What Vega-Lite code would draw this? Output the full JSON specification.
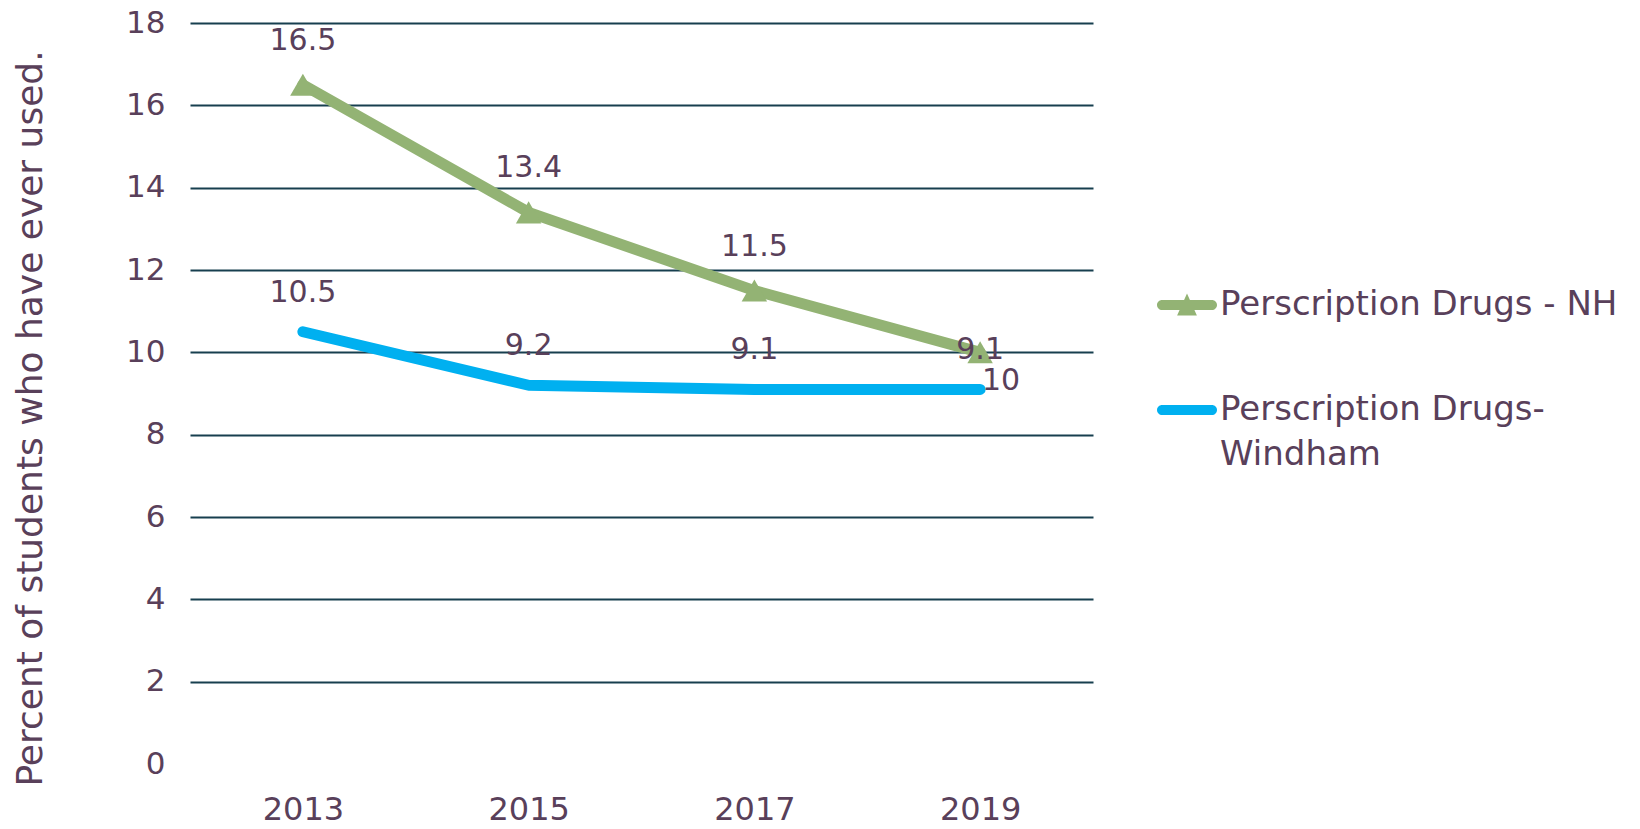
{
  "$schema": "https://vega.github.io/schema/vega-lite/v6.json",
  "width": 903,
  "height": 741,
  "autosize": {"type": "none"},
  "padding": {"left": 190, "top": 23, "right": 547, "bottom": 65},
  "background": "white",
  "config": {"view": {"stroke": null}, "font": "DejaVu Sans"},
  "data": {
    "values": [
      {"year": "2013", "series": "Perscription Drugs - NH", "value": 16.5},
      {"year": "2015", "series": "Perscription Drugs - NH", "value": 13.4},
      {"year": "2017", "series": "Perscription Drugs - NH", "value": 11.5},
      {"year": "2019", "series": "Perscription Drugs - NH", "value": 10},
      {"year": "2013", "series": "Perscription Drugs-Windham", "value": 10.5},
      {"year": "2015", "series": "Perscription Drugs-Windham", "value": 9.2},
      {"year": "2017", "series": "Perscription Drugs-Windham", "value": 9.1},
      {"year": "2019", "series": "Perscription Drugs-Windham", "value": 9.1}
    ]
  },
  "encoding": {
    "x": {
      "field": "year",
      "type": "ordinal",
      "scale": {"type": "point", "padding": 0.5},
      "axis": {
        "title": null,
        "labelAngle": 0,
        "labelFontSize": 32,
        "labelColor": "#59405A",
        "labelPadding": 30,
        "ticks": false,
        "domain": false,
        "grid": false
      }
    },
    "y": {
      "field": "value",
      "type": "quantitative",
      "scale": {"domain": [0, 18], "nice": false},
      "axis": {
        "values": [0, 2, 4, 6, 8, 10, 12, 14, 16, 18],
        "title": "Percent of students who have ever used.",
        "titleFontSize": 36,
        "titleFontWeight": "normal",
        "titleColor": "#59405A",
        "titleX": -160,
        "titleY": 395,
        "titleAngle": -90,
        "titleAlign": "center",
        "titleBaseline": "middle",
        "labelFontSize": 31,
        "labelColor": "#59405A",
        "labelPadding": 25,
        "ticks": false,
        "domain": false,
        "gridColor": {"condition": {"test": "datum.value === 0", "value": "transparent"}, "value": "#173F4F"},
        "gridWidth": 2
      }
    }
  },
  "layer": [
    {
      "mark": {"type": "line", "strokeWidth": 11, "strokeCap": "round", "strokeJoin": "round"},
      "encoding": {
        "color": {
          "field": "series",
          "type": "nominal",
          "scale": {
            "domain": ["Perscription Drugs - NH", "Perscription Drugs-Windham"],
            "range": ["#93B374", "#00B0F0"]
          },
          "legend": {
            "orient": "none",
            "legendX": 967,
            "legendY": 252,
            "title": null,
            "labelFontSize": 34,
            "labelColor": "#59405A",
            "labelOffset": 3,
            "labelLimit": 0,
            "symbolSize": 3600,
            "rowPadding": 58,
            "labelBaseline": "middle",
            "labelExpr": "datum.value === 'Perscription Drugs-Windham' ? ['Perscription Drugs-', 'Windham'] : datum.value",
            "encode": {
              "symbols": {
                "update": {
                  "shape": {"signal": "datum.value === 'Perscription Drugs - NH' ? 'M-0.83,-0.17L0.83,-0.17A0.17,0.17 0 0 1 0.83,0.17L-0.83,0.17A0.17,0.17 0 0 1 -0.83,-0.17Z M-0.33,0.35L0,-0.38L0.33,0.35Z' : 'M-0.83,-0.17L0.83,-0.17A0.17,0.17 0 0 1 0.83,0.17L-0.83,0.17A0.17,0.17 0 0 1 -0.83,-0.17Z'"},
                  "fill": {"signal": "datum.value === 'Perscription Drugs - NH' ? '#93B374' : '#00B0F0'"},
                  "stroke": {"value": "transparent"},
                  "strokeWidth": {"value": 0},
                  "opacity": {"value": 1}
                }
              },
              "labels": {
                "update": {
                  "lineHeight": {"value": 45}
                }
              }
            }
          }
        }
      }
    },
    {
      "transform": [{"filter": "datum.series === 'Perscription Drugs - NH'"}],
      "mark": {"type": "point", "shape": "triangle-up", "filled": true, "size": 650, "color": "#93B374", "opacity": 1}
    },
    {
      "transform": [{"filter": "datum.series === 'Perscription Drugs - NH' && datum.year !== '2019'"}],
      "mark": {"type": "text", "fontSize": 30, "color": "#59405A", "dy": -44, "baseline": "middle"},
      "encoding": {"text": {"field": "value", "type": "quantitative"}}
    },
    {
      "transform": [{"filter": "datum.series === 'Perscription Drugs - NH' && datum.year === '2019'"}],
      "mark": {"type": "text", "fontSize": 30, "color": "#59405A", "dy": 29, "dx": 21, "baseline": "middle"},
      "encoding": {"text": {"field": "value", "type": "quantitative"}}
    },
    {
      "transform": [{"filter": "datum.series === 'Perscription Drugs-Windham'"}],
      "mark": {"type": "text", "fontSize": 30, "color": "#59405A", "dy": -39, "baseline": "middle"},
      "encoding": {"text": {"field": "value", "type": "quantitative"}}
    }
  ]
}
